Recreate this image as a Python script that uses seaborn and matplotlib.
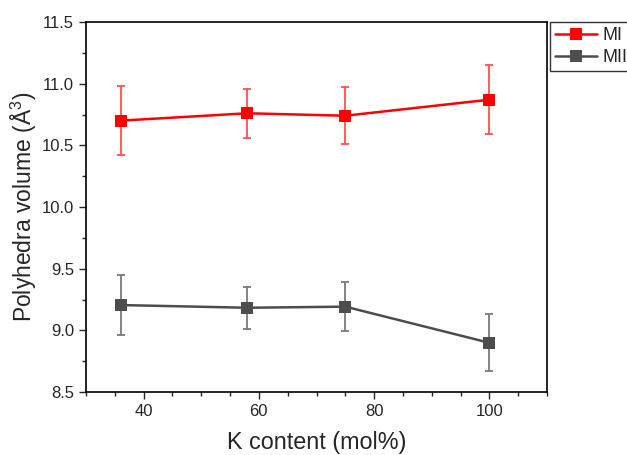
import matplotlib
matplotlib.use("Agg")
import matplotlib.pyplot as plt
import seaborn as sns
import pandas as pd
import numpy as np

k_content = [36, 58, 75, 100]
mi_values = [10.70, 10.76, 10.74, 10.87]
mi_err = [0.28, 0.20, 0.23, 0.28]
mii_values = [9.205, 9.183, 9.192, 8.899]
mii_err = [0.24, 0.17, 0.20, 0.23]
series_names = ["MI", "MII"]

sns.set_style("ticks")
plt.rcParams['font.family'] = ['Liberation Sans', 'DejaVu Sans']
plt.rcParams['mathtext.fontset'] = 'custom'
plt.rcParams['mathtext.rm'] = 'Liberation Sans'
plt.rcParams['mathtext.it'] = 'Liberation Sans'

df = pd.DataFrame({
    "x": k_content * 2,
    "y": mi_values + mii_values,
    "err": mi_err + mii_err,
    "series": [series_names[0]] * 4 + [series_names[1]] * 4,
})

colors = {"MI": "#ff0000", "MII": "#4d4d4d"}
err_colors = {"MI": "#ff5050", "MII": "#7a7a7a"}

fig = plt.figure(figsize=(6.27, 4.55), dpi=100)
ax = fig.add_axes([86/627, 1-392/455, (547-86)/627, (392-22)/455])

for name in series_names:
    sub = df[df.series == name]
    ax.errorbar(sub.x, sub.y, yerr=sub.err, fmt='none', ecolor=err_colors[name],
                elinewidth=1.3, capsize=3, capthick=1.3, zorder=2)
    sns.lineplot(data=sub, x="x", y="y", ax=ax, color=colors[name], marker="s",
                 markersize=9, markeredgewidth=0, linewidth=1.8, label=name,
                 legend=False, zorder=3)

ax.set_xlim(30, 110)
ax.set_ylim(8.5, 11.5)
ax.set_xticks([40, 60, 80, 100])
ax.set_xticks(np.arange(30, 111, 5), minor=True)
ax.set_yticks(np.arange(8.5, 11.51, 0.5))
ax.set_yticks(np.arange(8.5, 11.51, 0.25), minor=True)
ax.yaxis.set_major_formatter(matplotlib.ticker.FormatStrFormatter('%.1f'))
ax.tick_params(axis='both', which='major', direction='out', length=5, width=1,
               labelsize=12, top=False, right=False)
ax.tick_params(axis='both', which='minor', direction='out', length=3, width=1,
               top=False, right=False)
for s in ax.spines.values():
    s.set_visible(True)
    s.set_linewidth(1.2)
    s.set_color('black')

ax.set_xlabel("K content (mol%)", fontsize=16.8, labelpad=9)
ax.set_ylabel("Polyhedra volume (Å$^3$)", fontsize=16.5, labelpad=2)

handles, labels = ax.get_legend_handles_labels()
leg = fig.legend(handles, labels, loc='upper left', bbox_to_anchor=(550/627, 1-22/455),
                 frameon=True, fontsize=13, handlelength=2.3, borderpad=0.3,
                 labelspacing=0.25, handletextpad=0.3, borderaxespad=0,
                 fancybox=False)
leg.get_frame().set_edgecolor('black')
leg.get_frame().set_linewidth(1.0)

fig.savefig("out.png", dpi=100)
